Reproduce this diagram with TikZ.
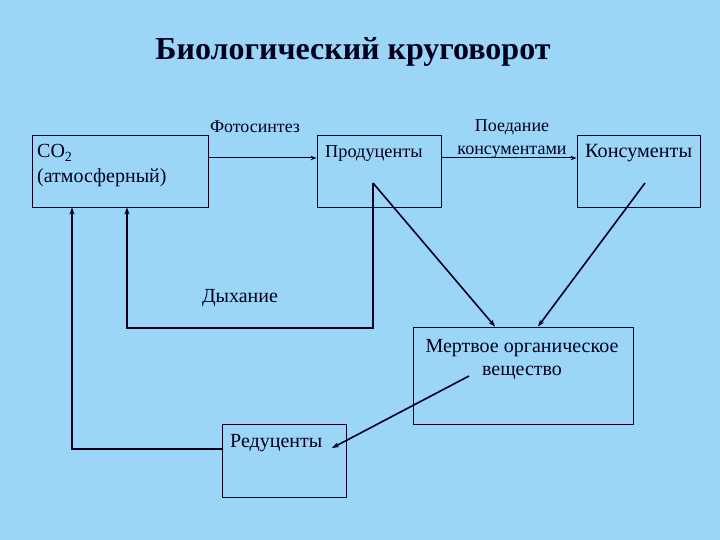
\documentclass[tikz,border=0pt]{standalone}
\usepackage{fontspec}
\setmainfont{Liberation Serif}
\usetikzlibrary{arrows.meta}
\definecolor{sky}{RGB}{156,214,247}
\definecolor{ink}{RGB}{0,0,30}

\begin{document}
\begin{tikzpicture}[x=1pt,y=-1pt,
    box/.style={draw=ink, line width=0.9pt, inner sep=0pt},
    flow/.style={draw=ink, line width=1pt, -{Stealth[length=6pt,width=4.5pt]}},
    loop/.style={draw=ink, line width=1.6pt, -{Stealth[length=7pt,width=5pt]}},
    lbl/.style={text=ink, inner sep=0pt, font=\fontsize{20}{23}\selectfont}]

        % Slide background
        \fill[sky] (0,0) rectangle (720,540);
        \useasboundingbox (0,0) rectangle (720,540);

        \node[text=ink, font=\bfseries\fontsize{32}{36}\selectfont] (title) at (353,52) {Биологический круговорот};

        % Boxes
        \node[box, minimum width=176pt, minimum height=72pt] (co2) at (120,171) {};
        \node[box, minimum width=124pt, minimum height=72pt] (prod) at (379,171) {};
        \node[box, minimum width=123pt, minimum height=72pt] (cons) at (638.5,171) {};
        \node[box, minimum width=220pt, minimum height=97pt] (dead) at (523,375.5) {};
        \node[box, minimum width=124pt, minimum height=73pt] (red) at (284,460.5) {};

        % Texts in the boxes
        \node[lbl, anchor=west, align=left, font=\fontsize{20}{25}\selectfont] (co2txt) at (37,166) {CO\textsubscript{2}\\(атмосферный)};
        \node[lbl, anchor=west, font=\fontsize{18.3}{23}\selectfont] (prodtxt) at (325,153) {Продуценты};
        \node[lbl, anchor=west, font=\fontsize{20.2}{23}\selectfont] (constxt) at (585,153) {Консументы};
        \node[lbl, align=center] (deadtxt) at (522,360) {Мертвое органическое\\вещество};
        \node[lbl, anchor=west] (redtxt) at (230,443) {Редуценты};

        % Points inside the boxes where lines start
        \coordinate (pr) at (373,183);
        \coordinate (cs) at (645,183);
        \coordinate (dd) at (469,376);
        \coordinate (rd) at (332,448);
        \coordinate (rb) at (127,328);

        % Food chain
        \draw[flow] ([yshift=13pt]co2.east) -- ([yshift=13pt]prod.west);
        \node[lbl, font=\fontsize{17.9}{23}\selectfont] (photo) at (255,127) {Фотосинтез};
        \draw[flow] ([yshift=13pt]prod.east) -- ([yshift=13pt]cons.west);
        \node[lbl, align=center, font=\fontsize{18}{23}\selectfont] (eat) at (512,139.5) {Поедание\\консументами};

        % Dead matter
        \draw[loop] (pr) -- ([xshift=-28pt]dead.north);
        \draw[loop] (cs) -- ([xshift=15pt]dead.north);
        \draw[loop] (dd) -- (rd);

        % Back to the atmosphere
        \draw[loop] (pr) |- (rb) -- (rb |- co2.south);
        \node[lbl] (resp) at (240,298) {Дыхание};
        \draw[loop] ([yshift=11.5pt]red.west) -| ([xshift=-48pt]co2.south);
\end{tikzpicture}
\end{document}
